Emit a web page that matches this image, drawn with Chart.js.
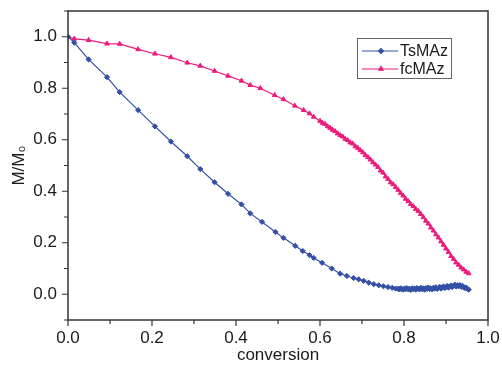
<!DOCTYPE html>
<html>
<head>
<meta charset="utf-8">
<script src="https://cdn.jsdelivr.net/npm/chart.js@4/dist/chart.umd.min.js"></script>
<style>
  html, body { margin: 0; padding: 0; background: #fff; }
  canvas { display: block; }
</style>
</head>
<body>
<canvas id="mChart" width="502" height="371"></canvas>
<script>
/* M/M0 vs conversion */
const tsX = [0, 0.015, 0.049, 0.093, 0.123, 0.167, 0.207, 0.245, 0.284, 0.315, 0.349, 0.381, 0.413, 0.434,
  0.462, 0.494, 0.513, 0.541, 0.559, 0.575, 0.585, 0.605, 0.628, 0.648, 0.664, 0.680, 0.692, 0.704, 0.716,
  0.728, 0.740, 0.751, 0.762, 0.772, 0.780,
  0.786, 0.789, 0.792, 0.795, 0.798, 0.801, 0.804, 0.807, 0.810, 0.813,
  0.816, 0.819, 0.822, 0.825, 0.828, 0.831, 0.834, 0.837, 0.840, 0.843,
  0.846, 0.849, 0.852, 0.855, 0.858, 0.861, 0.864, 0.867, 0.870, 0.873,
  0.876, 0.879, 0.882, 0.885, 0.888, 0.891, 0.894, 0.897, 0.900, 0.903,
  0.906, 0.909, 0.912, 0.915, 0.918, 0.921, 0.924, 0.927, 0.930, 0.933,
  0.936, 0.939, 0.942, 0.945, 0.948, 0.951, 0.954];
const tsY = [1.0, 0.977, 0.912, 0.843, 0.785, 0.715, 0.652, 0.593, 0.536, 0.486, 0.435, 0.390, 0.349, 0.314,
  0.281, 0.242, 0.219, 0.188, 0.168, 0.152, 0.141, 0.122, 0.100, 0.080, 0.071, 0.063, 0.058, 0.052, 0.045,
  0.039, 0.035, 0.031, 0.028, 0.025, 0.022,
  0.021, 0.019, 0.023, 0.020, 0.018, 0.022, 0.020, 0.024, 0.019, 0.021,
  0.017, 0.023, 0.020, 0.022, 0.018, 0.024, 0.021, 0.019, 0.025, 0.020,
  0.023, 0.018, 0.024, 0.021, 0.026, 0.020, 0.023, 0.019, 0.025, 0.022,
  0.027, 0.021, 0.024, 0.029, 0.022, 0.026, 0.030, 0.024, 0.028, 0.032,
  0.026, 0.030, 0.034, 0.028, 0.033, 0.037, 0.030, 0.035, 0.031, 0.036,
  0.029, 0.033, 0.027, 0.024, 0.026, 0.021, 0.018];

const fcX = [0, 0.015, 0.049, 0.093, 0.123, 0.167, 0.207, 0.245, 0.284, 0.315, 0.349, 0.381, 0.413, 0.434,
  0.458, 0.492, 0.513, 0.540, 0.561, 0.575, 0.585,
  0.600, 0.606, 0.612, 0.618, 0.624, 0.630, 0.636, 0.642, 0.648, 0.654,
  0.660, 0.666, 0.672, 0.678, 0.684, 0.690, 0.696, 0.702, 0.708, 0.714,
  0.720, 0.726, 0.732, 0.738, 0.744, 0.750, 0.756, 0.762, 0.768, 0.774,
  0.780, 0.786, 0.792, 0.798, 0.804, 0.810, 0.816, 0.822, 0.828, 0.834,
  0.840, 0.846, 0.852, 0.858, 0.864, 0.870, 0.876, 0.882, 0.888, 0.894,
  0.900, 0.906, 0.912, 0.918, 0.924, 0.930, 0.936, 0.942, 0.948, 0.954];
const fcY = [1.0, 0.992, 0.987, 0.973, 0.972, 0.951, 0.934, 0.920, 0.899, 0.887, 0.867, 0.848, 0.829, 0.812,
  0.800, 0.773, 0.757, 0.732, 0.715, 0.702, 0.689,
  0.673, 0.665, 0.661, 0.652, 0.646, 0.638, 0.633, 0.624, 0.618, 0.612,
  0.603, 0.598, 0.589, 0.585, 0.574, 0.568, 0.559, 0.551, 0.540, 0.532,
  0.523, 0.512, 0.503, 0.494, 0.480, 0.472, 0.457, 0.447, 0.434, 0.427,
  0.416, 0.405, 0.393, 0.383, 0.370, 0.361, 0.350, 0.342, 0.331, 0.323,
  0.311, 0.299, 0.285, 0.274, 0.259, 0.247, 0.232, 0.220, 0.205, 0.192,
  0.177, 0.164, 0.148, 0.137, 0.123, 0.114, 0.103, 0.096, 0.087, 0.081];

const seriesNames = ['TsMAz', 'fcMAz'];
const xTitle = 'conversion';
const yTitle = 'M/M\u2080';

(function () {
  const FONT = 'Liberation Sans, Arial, sans-serif';
  const AXIS = '#333';
  const TEXT = '#1a1a1a';

  function pts(xs, ys) { return xs.map((x, i) => ({ x: x, y: ys[i] })); }
  function isMajor(v) { return Math.round(v * 10) % 2 === 0; }
  function noPad(s) { s.paddingTop = 0; s.paddingBottom = 0; s.paddingLeft = 0; s.paddingRight = 0; }

  // box around the plot, ticks outside, legend in the upper right
  const framePlugin = {
    id: 'frame',
    afterDraw(chart) {
      const ctx = chart.ctx;
      const a = chart.chartArea;
      const sx = chart.scales.x, sy = chart.scales.y;
      ctx.save();
      ctx.strokeStyle = AXIS;
      ctx.lineWidth = 1.5;
      ctx.strokeRect(a.left, a.top, a.right - a.left, a.bottom - a.top);
      ctx.lineWidth = 1.2;
      ctx.beginPath();
      sx.ticks.forEach(t => {
        const px = sx.getPixelForValue(t.value);
        ctx.moveTo(px, a.bottom);
        ctx.lineTo(px, a.bottom + (isMajor(t.value) ? 6 : 4));
      });
      sy.ticks.forEach(t => {
        const py = sy.getPixelForValue(t.value);
        ctx.moveTo(a.left, py);
        ctx.lineTo(a.left - (isMajor(t.value) ? 6 : 4), py);
      });
      ctx.stroke();

      // legend
      const lx = 357, ly = 38, lw = 94, lh = 40;
      ctx.lineWidth = 1;
      ctx.strokeStyle = '#666';
      ctx.strokeRect(lx + 0.5, ly + 0.5, lw, lh);
      ctx.font = '16px ' + FONT;
      ctx.textBaseline = 'middle';
      chart.data.datasets.forEach((ds, i) => {
        const y = ly + 13 + i * 18;
        ctx.strokeStyle = ds.borderColor;
        ctx.lineWidth = 1.2;
        ctx.beginPath();
        ctx.moveTo(lx + 5, y);
        ctx.lineTo(lx + 41, y);
        ctx.stroke();
        ctx.fillStyle = ds.borderColor;
        Chart.helpers.drawPoint(ctx, { pointStyle: ds.pointStyle, radius: 2.5, borderWidth: 1 }, lx + 24, y);
        ctx.fillStyle = TEXT;
        ctx.fillText(ds.label, lx + 43, y + 1);
      });
      ctx.restore();
    }
  };

  const ctx = document.getElementById('mChart').getContext('2d');
  new Chart(ctx, {
    type: 'line',
    data: {
      datasets: [
        {
          label: seriesNames[0],
          data: pts(tsX, tsY),
          borderColor: '#3350a6',
          backgroundColor: '#3350a6',
          borderWidth: 1.2,
          pointStyle: 'rectRot',
          pointRadius: 2.6,
          pointBorderWidth: 1,
          tension: 0
        },
        {
          label: seriesNames[1],
          data: pts(fcX, fcY),
          borderColor: '#ee1a7c',
          backgroundColor: '#ee1a7c',
          borderWidth: 1.2,
          pointStyle: 'triangle',
          pointRadius: 2.7,
          pointBorderWidth: 1,
          tension: 0
        }
      ]
    },
    options: {
      responsive: false,
      animation: false,
      layout: { padding: { top: 11, right: 14, left: 0, bottom: 0 } },
      plugins: { legend: { display: false }, tooltip: { enabled: false } },
      scales: {
        x: {
          type: 'linear',
          min: 0,
          max: 1,
          grid: { display: false, drawTicks: false },
          border: { display: false },
          ticks: {
            stepSize: 0.1,
            padding: 8,
            color: TEXT,
            font: { family: FONT, size: 17 },
            autoSkip: false,
            maxRotation: 0,
            callback: v => isMajor(v) ? v.toFixed(1) : ''
          },
          title: {
            display: true,
            text: xTitle,
            color: TEXT,
            font: { family: FONT, size: 17 },
            padding: { top: 0, bottom: 5 }
          },
          afterFit: s => { s.height = 51; noPad(s); }
        },
        y: {
          min: -0.1,
          max: 1.1,
          grid: { display: false, drawTicks: false },
          border: { display: false },
          ticks: {
            stepSize: 0.1,
            padding: 11,
            color: TEXT,
            font: { family: FONT, size: 17 },
            autoSkip: false,
            callback: v => isMajor(v) ? Math.abs(v).toFixed(1) : ''
          },
          title: {
            display: true,
            text: yTitle,
            color: TEXT,
            font: { family: FONT, size: 17 },
            padding: { top: 9, bottom: 0 }
          },
          afterFit: s => { s.width = 68; noPad(s); }
        }
      }
    },
    plugins: [framePlugin]
  });
})();
</script>
</body>
</html>
